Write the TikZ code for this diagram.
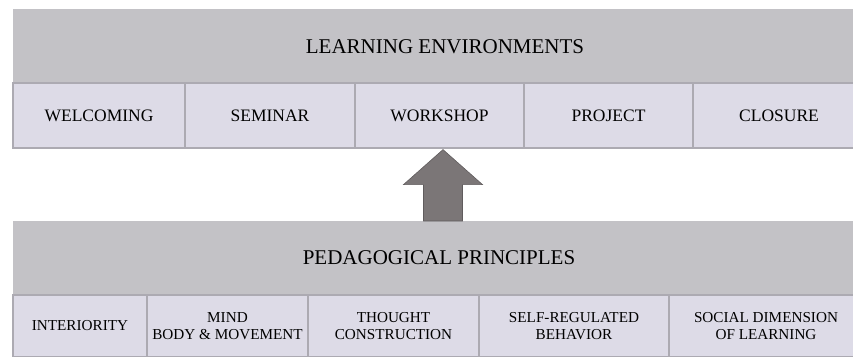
\documentclass[tikz,border=0pt]{standalone}
\usepackage{fontspec}
\setmainfont{Liberation Serif}
\usetikzlibrary{calc}

\definecolor{bandgray}{RGB}{195,194,198}
\definecolor{cellfill}{RGB}{221,219,231}
\definecolor{cellline}{RGB}{172,170,178}
\definecolor{arrowgray}{RGB}{123,118,119}
\definecolor{arrowline}{RGB}{96,92,93}

\tikzset{
  band/.style={fill=bandgray, draw=none, inner sep=0pt},
  bandtitle/.style={inner sep=0.75pt, font=\fontsize{21}{24}\selectfont},
  cell/.style={fill=cellfill, draw=cellline, line width=1.2pt, inner sep=0pt,
    minimum height=65pt, align=center, font=\fontsize{17.5}{20}\selectfont},
  lowcell/.style={cell, minimum height=62pt, font=\fontsize{15.2}{17}\selectfont},
  bigarrow/.style={fill=arrowgray, draw=arrowline, line width=0.6pt, line join=miter}
}

\begin{document}
\begin{tikzpicture}[x=1pt,y=1pt,yscale=-1,xscale=1]
  \useasboundingbox (0,0) rectangle (853,356);

  %Shape: Rectangle -- top band
  \node [band, anchor=north west, minimum width=860pt, minimum height=74pt] (envband) at (13,9) {};
  % Text Node
  \node [bandtitle] (envtitle) at (445,47) {LEARNING ENVIRONMENTS};

  % top row of cells
  \node [cell, minimum width=172pt] (welcoming) at (99,115.5)  {WELCOMING};
  \node [cell, minimum width=170pt] (seminar)   at (270,115.5) {SEMINAR};
  \node [cell, minimum width=169pt] (workshop)  at (439.5,115.5) {WORKSHOP};
  \node [cell, minimum width=169pt] (project)   at (608.5,115.5) {PROJECT};
  \node [cell, minimum width=172pt] (closure)   at (779,115.5) {CLOSURE};

  %Shape: Rectangle -- bottom band
  \node [band, anchor=north west, minimum width=860pt, minimum height=74pt] (ppband) at (13,221) {};
  % Text Node
  \node [bandtitle] (pptitle) at (439,258) {PEDAGOGICAL PRINCIPLES};

  % bottom row of cells
  \node [lowcell, minimum width=134pt] (interiority) at (80,326)    {INTERIORITY};
  \node [lowcell, minimum width=161pt] (mind)        at (227.5,326) {MIND\\BODY \& MOVEMENT};
  \node [lowcell, minimum width=171pt] (thought)     at (393.5,326) {THOUGHT\\CONSTRUCTION};
  \node [lowcell, minimum width=190pt] (selfreg)     at (574,326)   {SELF-REGULATED\\BEHAVIOR};
  \node [lowcell, minimum width=194pt] (social)      at (766,326)   {SOCIAL DIMENSION\\OF LEARNING};

  %Shape: Up Arrow -- from the principles band to the environments row
  \coordinate (tip) at ($(workshop.south)+(3.5,1)$);
  \coordinate (base) at (ppband.north -| tip);
  \draw [bigarrow] (tip) -- ++(-39.5,35) -- ++(20,0) -- ($(base)+(-19.5,0)$)
    -- ($(base)+(19.5,0)$) -- ($(tip)+(19.5,35)$) -- ++(20,0) -- cycle;
\end{tikzpicture}
\end{document}
